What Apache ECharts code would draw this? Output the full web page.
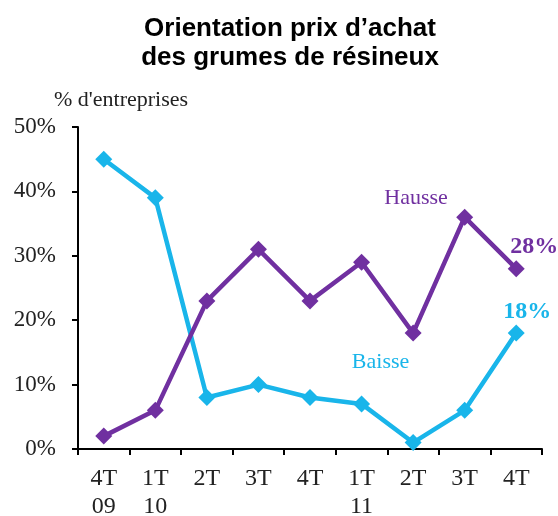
<!DOCTYPE html>
<html><head><meta charset="utf-8">
<script src="https://cdn.jsdelivr.net/npm/echarts@6/dist/echarts.min.js"></script>
<style>html,body{margin:0;padding:0;background:#fff}#c{width:558px;height:516px}</style>
</head><body><div id="c"></div>
<script>
const categories = ['4T\n09','1T\n10','2T','3T','4T','1T\n11','2T','3T','4T'];
const hausse = [2, 6, 23, 31, 23, 29, 18, 36, 28];
const baisse = [45, 39, 8, 10, 8, 7, 1, 6, 18];
const yTicks = [0, 10, 20, 30, 40, 50];
const purple = '#7030A0', cyan = '#19B5EA';
const serif = '"Liberation Serif","DejaVu Serif",serif';

function withLast(arr, color, text, offset) {
  return arr.map((v, i) => i === arr.length - 1 ? {
    value: v,
    label: {show: true, position: 'inside', offset: offset, formatter: text,
      color: color, fontFamily: serif, fontWeight: 'bold', fontSize: 24}
  } : v);
}

const chart = echarts.init(document.getElementById('c'), null, {renderer: 'canvas'});
chart.setOption({
  animation: false,
  title: {
    text: 'Orientation prix d\u2019achat\ndes grumes de résineux',
    left: 285, textAlign: 'center', top: 9,
    textStyle: {fontFamily: '"Liberation Sans",Arial,sans-serif', fontWeight: 'bold', fontSize: 26, lineHeight: 29, color: '#000'}
  },
  grid: {left: 78, right: 16, top: 127, bottom: 67, outerBoundsMode: 'none', containLabel: false},
  xAxis: {
    type: 'category', data: categories, boundaryGap: true,
    axisLine: {lineStyle: {color: '#000', width: 2}},
    axisTick: {show: true, length: 6, lineStyle: {color: '#000', width: 2}},
    axisLabel: {color: '#222', fontFamily: serif, fontSize: 24, lineHeight: 28, margin: 16, interval: 0}
  },
  yAxis: {
    type: 'value', min: 0, max: 50, interval: 10,
    name: '% d\'entreprises', nameLocation: 'end', nameGap: 16,
    nameTextStyle: {fontFamily: serif, fontSize: 22, color: '#222', align: 'left', padding: [0,0,0,-24]},
    axisLine: {show: true, lineStyle: {color: '#000', width: 2}},
    axisTick: {show: true, length: 6, lineStyle: {color: '#000', width: 2}},
    splitLine: {show: false},
    axisLabel: {color: '#222', fontFamily: serif, fontSize: 23, margin: 22, formatter: v => yTicks.includes(v) ? v + '%' : ''}
  },
  series: [
    {
      name: 'Hausse', type: 'line', data: withLast(hausse, purple, '28%', [18, -22]),
      symbol: 'diamond', symbolSize: 17, lineStyle: {color: purple, width: 4.5}, itemStyle: {color: purple},
      markPoint: {symbol: 'circle', symbolSize: 0, data: [{coord: [6, 38.7], label: {show: true, formatter: 'Hausse', color: purple, fontFamily: serif, fontSize: 22, offset: [3, -2]}}]},
      z: 3
    },
    {
      name: 'Baisse', type: 'line', data: withLast(baisse, cyan, '18%', [11, -21]),
      symbol: 'diamond', symbolSize: 17, lineStyle: {color: cyan, width: 4.5}, itemStyle: {color: cyan},
      markPoint: {symbol: 'circle', symbolSize: 0, data: [{coord: [5, 13.5], label: {show: true, formatter: 'Baisse', color: cyan, fontFamily: serif, fontSize: 22, offset: [19, 0]}}]},
      z: 2
    }
  ]
});
</script></body></html>
